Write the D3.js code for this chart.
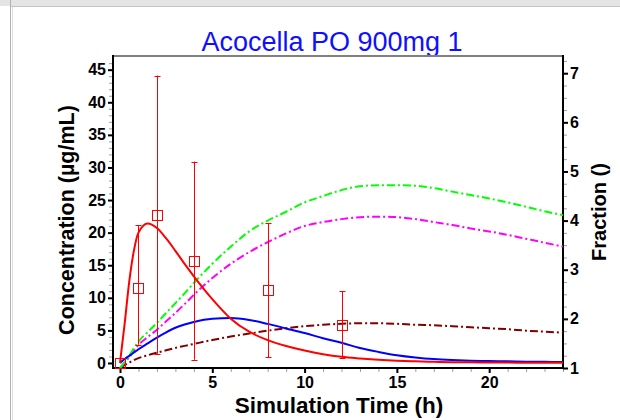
<!DOCTYPE html>
<html>
<head>
<meta charset="utf-8">
<script src="https://cdn.jsdelivr.net/npm/d3@7"></script>
<style>
  html, body { margin: 0; padding: 0; background: #ffffff; }
  svg { display: block; }
  text { font-family: "Liberation Sans", Arial, sans-serif; }
</style>
</head>
<body>
<svg id="chart" width="620" height="420"></svg>
<script>
// Simulated profiles (hours)
const simTime = [0, 0.25, 0.5, 0.75, 1, 1.5, 2, 2.5, 3, 3.5, 4, 5, 6, 7, 8, 9, 10,
                 11, 12, 13, 14, 15, 16, 17, 18, 19, 20, 21, 22, 23, 24];
// Plasma concentration, µg/mL (left axis)
const plasmaConc = [0, 6.0, 12.5, 17.2, 20.0, 21.4, 20.7, 19.1, 17.2, 15.2, 13.3, 9.8, 6.8, 4.8, 3.5, 2.6, 1.9,
                    1.35, 0.95, 0.7, 0.5, 0.35, 0.25, 0.18, 0.13, 0.1, 0.08, 0.06, 0.05, 0.04, 0.03];
// Metabolite concentration, µg/mL (left axis)
const metaboliteConc = [0, 0.6, 1.1, 1.6, 2.1, 3.0, 3.9, 4.7, 5.4, 5.9, 6.3, 6.8, 6.9, 6.6, 6.0, 5.3, 4.6,
                        3.8, 3.1, 2.3, 1.7, 1.2, 0.85, 0.6, 0.45, 0.35, 0.3, 0.25, 0.2, 0.18, 0.15];
// Fractions (right axis)
const fractionA = [1.0, 1.12, 1.25, 1.4, 1.54, 1.73, 1.92, 2.12, 2.32, 2.52, 2.73, 3.12, 3.47, 3.78, 4.0, 4.18, 4.37,
                   4.5, 4.62, 4.7, 4.72, 4.72, 4.71, 4.66, 4.59, 4.52, 4.45, 4.37, 4.28, 4.19, 4.11];
const fractionB = [1.0, 1.11, 1.22, 1.35, 1.47, 1.63, 1.78, 1.95, 2.12, 2.3, 2.49, 2.83, 3.12, 3.36, 3.56, 3.74, 3.89,
                   3.97, 4.03, 4.07, 4.08, 4.07, 4.03, 3.97, 3.91, 3.84, 3.78, 3.71, 3.63, 3.55, 3.47];
const fractionC = [1.0, 1.06, 1.11, 1.16, 1.2, 1.26, 1.31, 1.36, 1.41, 1.45, 1.49, 1.57, 1.64, 1.7, 1.76, 1.81, 1.85,
                   1.88, 1.9, 1.91, 1.91, 1.9, 1.88, 1.87, 1.85, 1.83, 1.81, 1.79, 1.76, 1.74, 1.72];

// Observed plasma concentrations with error ranges
const obsTime = [0, 1, 2, 4, 8, 12];
const obsConc = [0, 11.5, 22.7, 15.7, 11.2, 5.9];
const obsLow  = [0, 2.8, 1.4, 0.5, 0.9, 0.7];
const obsHigh = [0, 21.1, 44.1, 30.9, 21.5, 11.0];

// Axis ticks
const xTicks = [0, 5, 10, 15, 20];
const yLeftTicks = [0, 5, 10, 15, 20, 25, 30, 35, 40, 45];
const yRightTicks = [1, 2, 3, 4, 5, 6, 7];

const titleText = "Acocella PO 900mg 1";
const xLabel = "Simulation Time (h)";
const yLeftLabel = "Concentration (µg/mL)";
const yRightLabel = "Fraction ()";

const svg = d3.select("#chart");
const L = 113, R = 563, T = 56, B = 368;

const x = d3.scaleLinear().domain([-0.38, 24]).range([L, R]);
const yL = d3.scaleLinear().domain([-0.77, 47.1]).range([B, T]);
const yR = d3.scaleLinear().domain([1, 7.35]).range([B, T]);

// window frame
svg.append("rect").attr("x", 0).attr("y", 0).attr("width", 620).attr("height", 420).attr("fill", "#ffffff");
svg.append("rect").attr("x", 0).attr("y", 0).attr("width", 620).attr("height", 6).attr("fill", "#e4e4e4");
svg.append("line").attr("x1", 10).attr("x2", 620).attr("y1", 6.5).attr("y2", 6.5).attr("stroke", "#c4c4c4");
svg.append("line").attr("x1", 10.5).attr("x2", 10.5).attr("y1", 0).attr("y2", 420).attr("stroke", "#b0b0b0");
svg.append("line").attr("x1", 12.5).attr("x2", 12.5).attr("y1", 7).attr("y2", 420).attr("stroke", "#e0e0e0");

// title
svg.append("text").attr("x", 332).attr("y", 51).attr("text-anchor", "middle")
  .attr("font-size", 27).attr("fill", "#1010ff").text(titleText);

// minor ticks
function minor(axis, scale, step, lo, hi) {
  const vals = d3.range(lo, hi + 1e-9, step);
  return axis(scale).tickValues(vals).tickSize(4).tickFormat("");
}
const gMinorX = svg.append("g").attr("transform", `translate(0,${B})`)
  .call(minor(d3.axisBottom, x, 1, 0, 24));
const gMinorYL = svg.append("g").attr("transform", `translate(${L},0)`)
  .call(minor(d3.axisLeft, yL, 1, 0, 46));
const gMinorYR = svg.append("g").attr("transform", `translate(${R},0)`)
  .call(minor(d3.axisRight, yR, 0.25, 1, 7.25));
[gMinorX, gMinorYL, gMinorYR].forEach(g => {
  g.select(".domain").remove();
  g.selectAll("line").attr("stroke", "#a0a0a0");
});

// major axes
const gx = svg.append("g").attr("transform", `translate(0,${B})`)
  .call(d3.axisBottom(x).tickValues(xTicks).tickSize(5).tickPadding(4).tickFormat(d3.format("d")));
const gyl = svg.append("g").attr("transform", `translate(${L},0)`)
  .call(d3.axisLeft(yL).tickValues(yLeftTicks).tickSize(5).tickPadding(2).tickFormat(d3.format("d")));
const gyr = svg.append("g").attr("transform", `translate(${R},0)`)
  .call(d3.axisRight(yR).tickValues(yRightTicks).tickSize(5).tickPadding(2).tickFormat(d3.format("d")));
[gx, gyl, gyr].forEach(g => {
  g.select(".domain").remove();
  g.selectAll("line").attr("stroke", "#000").attr("stroke-width", 2);
  g.selectAll("text").attr("font-size", 16).attr("font-weight", "bold").attr("fill", "#000")
    .attr("font-family", "'Liberation Sans', Arial, sans-serif");
});

// frame
svg.append("line").attr("x1", L).attr("x2", R).attr("y1", T).attr("y2", T).attr("stroke", "#808080").attr("stroke-width", 2);
svg.append("line").attr("x1", L).attr("x2", L).attr("y1", T - 1).attr("y2", B + 1).attr("stroke", "#000").attr("stroke-width", 2);
svg.append("line").attr("x1", R).attr("x2", R).attr("y1", T - 1).attr("y2", B + 1).attr("stroke", "#000").attr("stroke-width", 2);
svg.append("line").attr("x1", L - 1).attr("x2", R + 1).attr("y1", B).attr("y2", B).attr("stroke", "#000").attr("stroke-width", 2);

// axis labels
svg.append("text").attr("x", 339).attr("y", 413).attr("text-anchor", "middle")
  .attr("font-size", 22.5).attr("font-weight", "bold").text(xLabel);
svg.append("text").attr("transform", "translate(74,220) rotate(-90)").attr("text-anchor", "middle")
  .attr("font-size", 21.5).attr("font-weight", "bold").text(yLeftLabel);
svg.append("text").attr("transform", "translate(606,212) rotate(-90)").attr("text-anchor", "middle")
  .attr("font-size", 20).attr("font-weight", "bold").text(yRightLabel);

// curves
const plot = svg.append("g");
plot.append("clipPath").attr("id", "clip").append("rect")
  .attr("x", L).attr("y", T).attr("width", R - L).attr("height", B - T);
const g = plot.append("g").attr("clip-path", "url(#clip)");

function drawLine(values, yScale, color, dash) {
  const line = d3.line()
    .x((d, i) => x(simTime[i]))
    .y(d => yScale(d))
    .curve(d3.curveMonotoneX);
  g.append("path").datum(values).attr("d", line)
    .attr("fill", "none").attr("stroke", color).attr("stroke-width", 2)
    .attr("stroke-dasharray", dash || null);
}
const dashDot = "8,3,2,3";
drawLine(fractionC, yR, "#800000", dashDot);
drawLine(fractionB, yR, "#ff00ff", dashDot);
drawLine(fractionA, yR, "#00ff00", dashDot);
drawLine(metaboliteConc, yL, "#0000ff");
drawLine(plasmaConc, yL, "#ff0000");

// observed points with error bars
const obs = obsTime.map((t, i) => ({ t, c: obsConc[i], lo: obsLow[i], hi: obsHigh[i] }));
const eb = svg.append("g").attr("stroke", "#ff0000").attr("stroke-width", 1).attr("fill", "none");
obs.filter(d => d.hi > d.lo).forEach(d => {
  const cx = Math.round(x(d.t)) + 0.5;
  eb.append("line").attr("x1", cx).attr("x2", cx).attr("y1", yL(d.lo)).attr("y2", yL(d.hi));
  eb.append("line").attr("x1", cx - 3).attr("x2", cx + 3).attr("y1", Math.round(yL(d.hi)) + 0.5).attr("y2", Math.round(yL(d.hi)) + 0.5);
  eb.append("line").attr("x1", cx - 3).attr("x2", cx + 3).attr("y1", Math.round(yL(d.lo)) + 0.5).attr("y2", Math.round(yL(d.lo)) + 0.5);
});
obs.forEach(d => {
  eb.append("rect")
    .attr("x", Math.round(x(d.t)) - 4.5).attr("y", Math.round(yL(d.c)) - 4.5)
    .attr("width", 10).attr("height", 10);
});
</script>
</body>
</html>
